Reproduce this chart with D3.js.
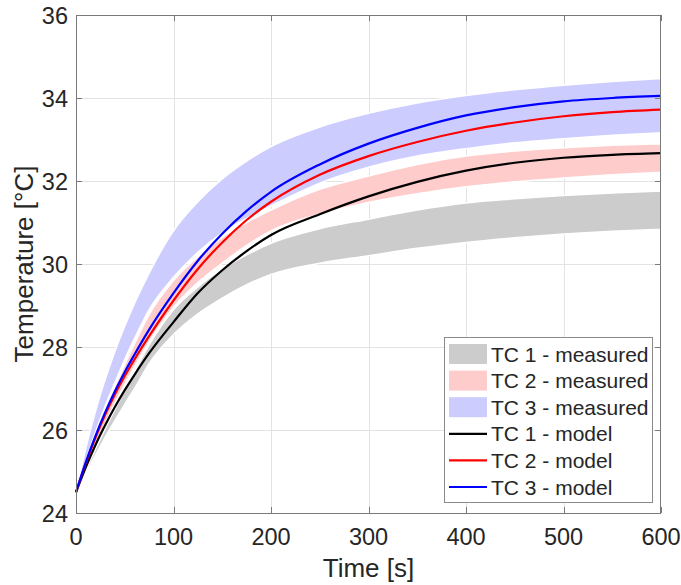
<!DOCTYPE html>
<html><head><meta charset="utf-8">
<script src="https://cdn.jsdelivr.net/npm/d3@7"></script>
<style>body{margin:0;background:#fff}svg{display:block}text{font-family:"Liberation Sans",Arial,sans-serif;fill:#262626}</style>
</head><body>
<script>
// ---- data ----
const timeS = [0,10,20,30,40,50,60,75,100,125,150,175,200,250,300,350,400,450,500,550,600];
const tc1MeasLow  = [24.5,24.95,25.4,25.83,26.23,26.62,27.0,27.6,28.3,28.8,29.18,29.5,29.75,30.02,30.2,30.38,30.52,30.63,30.72,30.79,30.84];
const tc1MeasHigh = [24.5,25.03,25.54,26.03,26.5,26.95,27.4,28.05,28.9,29.45,29.88,30.22,30.5,30.85,31.08,31.3,31.47,31.57,31.65,31.71,31.76];
const tc2MeasLow  = [24.5,25.08,25.63,26.15,26.65,27.1,27.52,28.12,28.95,29.55,30.02,30.45,30.8,31.2,31.48,31.69,31.86,31.98,32.07,32.15,32.21];
const tc2MeasHigh = [24.5,25.2,25.88,26.5,27.05,27.58,28.08,28.78,29.6,30.18,30.65,31.0,31.3,31.8,32.12,32.4,32.6,32.72,32.8,32.86,32.9];
const tc3MeasLow  = [24.5,25.25,25.95,26.58,27.15,27.7,28.2,28.9,29.68,30.28,30.75,31.1,31.4,31.95,32.33,32.6,32.78,32.92,33.02,33.1,33.16];
const tc3MeasHigh = [24.5,25.55,26.45,27.22,27.9,28.5,29.05,29.78,30.8,31.5,32.05,32.48,32.83,33.3,33.63,33.88,34.06,34.2,34.31,34.4,34.47];
const tc1Model = [24.5,25.1,25.64,26.12,26.56,26.96,27.33,27.85,28.6,29.3,29.85,30.31,30.7,31.2,31.63,31.98,32.25,32.44,32.56,32.63,32.67];
const tc2Model = [24.5,25.2,25.82,26.37,26.86,27.3,27.7,28.26,29.12,29.88,30.52,31.06,31.5,32.15,32.6,32.94,33.21,33.41,33.56,33.66,33.72];
const tc3Model = [24.5,25.22,25.86,26.43,26.94,27.4,27.82,28.42,29.3,30.08,30.73,31.28,31.74,32.4,32.9,33.28,33.58,33.78,33.92,34.0,34.05];
const xTicks = [0,100,200,300,400,500,600];
const yTicks = [24,26,28,30,32,34,36];
const legendLabels = ["TC 1 - measured","TC 2 - measured","TC 3 - measured","TC 1 - model","TC 2 - model","TC 3 - model"];

const W=681,H=585;
const L=76,R=661,T=15,B=513;
const svg=d3.select("body").append("svg").attr("width",W).attr("height",H);
const x=d3.scaleLinear().domain([0,600]).range([L,R]);
const y=d3.scaleLinear().domain([24,36]).range([B,T]);

// grid
const g=svg.append("g");
g.selectAll(".gx").data(xTicks.slice(1,-1)).enter().append("line")
 .attr("x1",d=>Math.round(x(d))+0.5).attr("x2",d=>Math.round(x(d))+0.5).attr("y1",T).attr("y2",B)
 .attr("stroke","#e3e3e3").attr("stroke-width",1);
g.selectAll(".gy").data(yTicks.slice(1,-1)).enter().append("line")
 .attr("y1",d=>Math.round(y(d))+0.5).attr("y2",d=>Math.round(y(d))+0.5).attr("x1",L).attr("x2",R)
 .attr("stroke","#e3e3e3").attr("stroke-width",1);

// bands
const bands=[
 {lo:tc1MeasLow,hi:tc1MeasHigh,fill:"#cccccc"},
 {lo:tc2MeasLow,hi:tc2MeasHigh,fill:"#ffcccc"},
 {lo:tc3MeasLow,hi:tc3MeasHigh,fill:"#ccccff"}];
const area=d3.area().x((d,i)=>x(timeS[i])).curve(d3.curveMonotoneX);
bands.forEach(b=>{
  svg.append("path").datum(timeS)
   .attr("d",area.y0((d,i)=>y(b.lo[i])).y1((d,i)=>y(b.hi[i])))
   .attr("fill",b.fill).attr("stroke","#fff").attr("stroke-width",1.5);
});
// model lines
const models=[{v:tc1Model,c:"#000000"},{v:tc2Model,c:"#ff0000"},{v:tc3Model,c:"#0000ff"}];
const line=d3.line().x((d,i)=>x(timeS[i])).curve(d3.curveMonotoneX);
models.forEach(m=>{
  svg.append("path").datum(timeS).attr("d",line.y((d,i)=>y(m.v[i])))
   .attr("fill","none").attr("stroke",m.c).attr("stroke-width",2.2);
});

// axes box
const ax="#7a7a7a";
svg.append("rect").attr("x",L+0.5).attr("y",T+0.5).attr("width",R-L-1).attr("height",B-T)
 .attr("fill","none").attr("stroke",ax).attr("stroke-width",1);
const tl=6;
xTicks.forEach(d=>{
  const px=Math.round(x(d))+0.5;
  svg.append("line").attr("x1",px).attr("x2",px).attr("y1",B).attr("y2",B-tl).attr("stroke",ax);
  svg.append("line").attr("x1",px).attr("x2",px).attr("y1",T).attr("y2",T+tl).attr("stroke",ax);
  svg.append("text").attr("x",x(d)).attr("y",B+32).attr("text-anchor","middle").attr("font-size",23.5).text(d);
});
yTicks.forEach(d=>{
  const py=Math.round(y(d))+0.5;
  svg.append("line").attr("x1",L).attr("x2",L+tl).attr("y1",py).attr("y2",py).attr("stroke",ax);
  svg.append("line").attr("x1",R).attr("x2",R-tl).attr("y1",py).attr("y2",py).attr("stroke",ax);
  svg.append("text").attr("x",L-8).attr("y",y(d)+9).attr("text-anchor","end").attr("font-size",23.5).text(d);
});
svg.append("text").attr("x",(L+R)/2).attr("y",577).attr("text-anchor","middle").attr("font-size",26).text("Time [s]");
svg.append("text").attr("transform",`translate(33,${(T+B)/2}) rotate(-90)`).attr("text-anchor","middle").attr("font-size",26).text("Temperature [°C]");

// legend
const lx=444,ly=337,lw=208,lh=165;
const lg=svg.append("g");
lg.append("rect").attr("x",lx+0.5).attr("y",ly+0.5).attr("width",lw).attr("height",lh).attr("fill","#fff").attr("stroke","#8a8a8a");
const colors=["#cccccc","#ffcccc","#ccccff","#000000","#ff0000","#0000ff"];
legendLabels.forEach((lab,i)=>{
  const cy=ly+17+i*26.6;
  if(i<3){
    lg.append("rect").attr("x",lx+5).attr("y",cy-10).attr("width",38).attr("height",20).attr("fill",colors[i]);
  } else {
    lg.append("line").attr("x1",lx+5).attr("x2",lx+43).attr("y1",cy).attr("y2",cy).attr("stroke",colors[i]).attr("stroke-width",2.2);
  }
  lg.append("text").attr("x",lx+47).attr("y",cy+7.5).attr("font-size",21).text(lab);
});
</script>
</body></html>
